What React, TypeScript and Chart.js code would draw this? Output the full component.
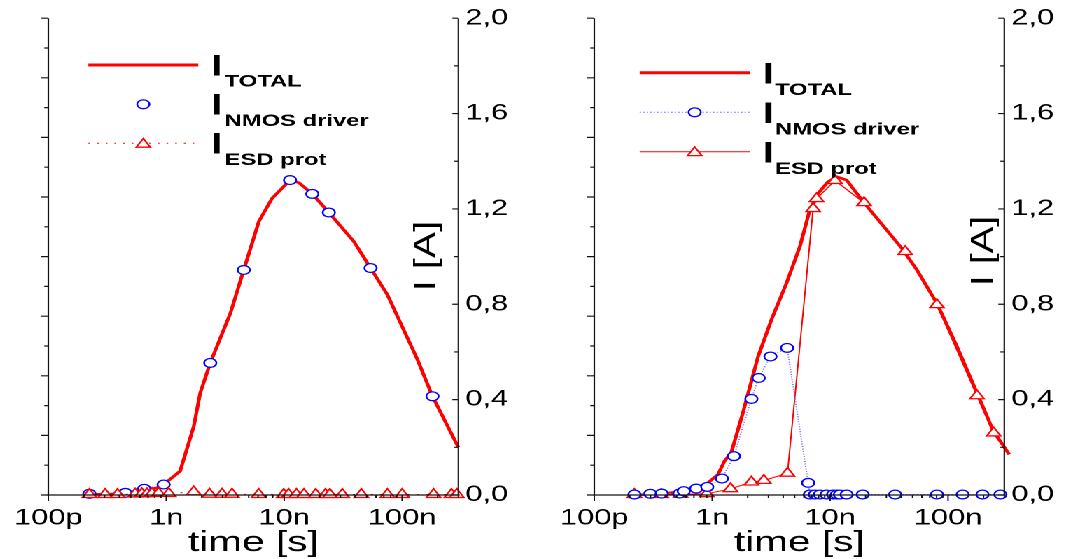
import React, { useEffect, useRef } from 'react';
import { Chart, registerables } from 'chart.js';

Chart.register(...registerables);

// ---------------- data ----------------
const timeMin = 1e-10;
const timeMax = 3e-7;
const xTickValues = [1e-10, 1e-9, 1e-8, 1e-7];
const xTickLabels = ['100p', '1n', '10n', '100n'];
const yTickValues = [0, 0.4, 0.8, 1.2, 1.6, 2.0];
const yTickLabels = ['0,0', '0,4', '0,8', '1,2', '1,6', '2,0'];
const seriesNames = ['TOTAL', 'NMOS driver', 'ESD prot'];
const xTitle = 'time [s]';
const yTitle = 'I [A]';

// left panel
const leftTotalTime = [2.23e-10, 4.34e-10, 6.0e-10, 8.3e-10, 9.5e-10, 1.31e-9, 1.71e-9, 1.94e-9, 2.36e-9, 3.5e-9, 4.54e-9, 6.09e-9, 7.9e-9, 1.12e-8, 1.33e-8, 1.73e-8, 2.39e-8, 3.9e-8, 5.4e-8, 7.5e-8, 1.35e-7, 1.81e-7, 3.0e-7];
const leftTotalCurrent = [0.002, 0.005, 0.016, 0.03, 0.044, 0.1, 0.288, 0.428, 0.554, 0.763, 0.944, 1.147, 1.245, 1.321, 1.31, 1.263, 1.185, 1.063, 0.952, 0.84, 0.568, 0.414, 0.2];

const leftNmosTime = [2.23e-10, 4.5e-10, 6.5e-10, 9.5e-10, 2.36e-9, 4.54e-9, 1.12e-8, 1.73e-8, 2.39e-8, 5.4e-8, 1.81e-7];
const leftNmosCurrent = [0.005, 0.009, 0.026, 0.044, 0.554, 0.944, 1.321, 1.263, 1.185, 0.952, 0.414];

const leftEsdTime = [2.23e-10, 3.03e-10, 3.86e-10, 5.45e-10, 6.2e-10, 6.86e-10, 7.56e-10, 8.6e-10, 1.05e-9, 1.71e-9, 2.33e-9, 2.97e-9, 3.61e-9, 6.08e-9, 9.9e-9, 1.09e-8, 1.27e-8, 1.47e-8, 1.85e-8, 2.24e-8, 2.44e-8, 3.11e-8, 4.51e-8, 7.5e-8, 1.0e-7, 1.85e-7, 2.62e-7, 2.91e-7];
const leftEsdCurrent = [0.002, 0.002, 0.002, 0.004, 0.005, 0.005, 0.006, 0.007, 0.006, 0.013, 0.003, 0.003, 0.003, 0.002, 0.002, 0.002, 0.002, 0.002, 0.002, 0.002, 0.002, 0.002, 0.002, 0.002, 0.002, 0.002, 0.002, 0.002];

// right panel
const rightTotalTime = [2.19e-10, 3.69e-10, 5.8e-10, 7.56e-10, 9.2e-10, 1.12e-9, 1.27e-9, 1.45e-9, 1.82e-9, 2.45e-9, 3.18e-9, 4.27e-9, 5.54e-9, 6.73e-9, 7.93e-9, 9.6e-9, 1.14e-8, 1.38e-8, 1.91e-8, 4.05e-8, 5.43e-8, 8.05e-8, 1.19e-7, 1.76e-7, 2.44e-7, 2.78e-7, 3.3e-7];
const rightTotalCurrent = [0.0, 0.005, 0.016, 0.03, 0.051, 0.086, 0.142, 0.177, 0.344, 0.581, 0.735, 0.889, 1.042, 1.196, 1.266, 1.314, 1.335, 1.321, 1.23, 1.035, 0.945, 0.804, 0.623, 0.428, 0.264, 0.225, 0.17];

const rightNmosTime = [2.19e-10, 2.99e-10, 3.73e-10, 5.28e-10, 5.74e-10, 7.32e-10, 9.08e-10, 1.21e-9, 1.53e-9, 2.15e-9, 2.48e-9, 3.12e-9, 4.32e-9, 6.52e-9, 6.73e-9, 7.43e-9, 8.19e-9, 9.33e-9, 1.06e-8, 1.14e-8, 1.21e-8, 1.38e-8, 1.89e-8, 3.56e-8, 8.05e-8, 1.33e-7, 1.96e-7, 2.78e-7];
const rightNmosCurrent = [0.002, 0.005, 0.006, 0.006, 0.016, 0.027, 0.034, 0.069, 0.163, 0.403, 0.491, 0.581, 0.617, 0.051, 0.002, 0.002, 0.002, 0.002, 0.002, 0.002, 0.002, 0.002, 0.002, 0.002, 0.002, 0.002, 0.002, 0.002];

const rightEsdTime = [2.19e-10, 3.7e-10, 5.4e-10, 9.0e-10, 1.43e-9, 2.15e-9, 2.74e-9, 4.35e-9, 7.18e-9, 7.67e-9, 1.1e-8, 1.94e-8, 4.33e-8, 8.05e-8, 1.76e-7, 2.44e-7];
const rightEsdCurrent = [0.002, 0.002, 0.003, 0.005, 0.026, 0.054, 0.061, 0.091, 1.201, 1.243, 1.319, 1.226, 1.021, 0.798, 0.416, 0.26];

// ---------------- style / layout ----------------
const STRETCH = 1.4; // the whole figure is horizontally stretched
const FONT = '"Liberation Sans", Arial, Helvetica, sans-serif';
const RED = '#ff0000';
const BLUE = '#0000ff';
const AXIS = '#111111';
const CANVAS_W = 370;
const CANVAS_H = 559;
const AREA_LEFT = 34.5;
const AREA_RIGHT = 327.4;
const AREA_TOP = 18;
const X_AXIS_H = 64;

type LegendCfg = {
  x0: number; x1: number; xI: number; xSub: number;
  rows: number[]; iOff: number; subOff: number;
  nmosLine: boolean; esdDash: number[];
};
type PanelCfg = { legend: LegendCfg; titleX: number; titleY: number };

const pts = (t: number[], c: number[]) => t.map((x, i) => ({ x, y: c[i] }));

function drawTriangle(ctx: CanvasRenderingContext2D, x: number, y: number, r: number) {
  ctx.beginPath();
  let rad = 0;
  ctx.moveTo(x + Math.sin(rad) * r, y - Math.cos(rad) * r);
  rad += (2 * Math.PI) / 3;
  ctx.lineTo(x + Math.sin(rad) * r, y - Math.cos(rad) * r);
  rad += (2 * Math.PI) / 3;
  ctx.lineTo(x + Math.sin(rad) * r, y - Math.cos(rad) * r);
  ctx.closePath();
  ctx.fillStyle = '#fff';
  ctx.fill();
  ctx.stroke();
}

function makePlugin(cfg: PanelCfg) {
  return {
    id: 'decor',
    afterDraw(chart: any) {
      const { ctx, chartArea: a, scales } = chart;
      const xs = scales.x;
      const ys = scales.y;
      ctx.save();
      ctx.setLineDash([]);
      ctx.strokeStyle = AXIS;
      // axis lines
      ctx.lineWidth = 1.1;
      ctx.beginPath();
      ctx.moveTo(a.left, a.top);
      ctx.lineTo(a.left, a.bottom);
      ctx.moveTo(a.right, a.top);
      ctx.lineTo(a.right, a.bottom);
      ctx.stroke();
      ctx.lineWidth = 1.3;
      ctx.beginPath();
      ctx.moveTo(a.left - 1, a.bottom);
      ctx.lineTo(a.right + 1, a.bottom);
      ctx.stroke();
      // x ticks (log)
      ctx.lineWidth = 1.0;
      ctx.beginPath();
      for (let e = -10; e <= -7; e++) {
        for (let m = 1; m <= 9; m++) {
          const v = m * Math.pow(10, e);
          if (v > timeMax * 1.0001) break;
          const px = xs.getPixelForValue(v);
          const len = m === 1 ? 6 : 3;
          ctx.moveTo(px, a.bottom);
          ctx.lineTo(px, a.bottom + len);
        }
      }
      ctx.stroke();
      // left axis ticks (outward)
      ctx.lineWidth = 1.2;
      ctx.beginPath();
      for (let i = 0; i <= 16; i++) {
        const py = ys.getPixelForValue(i * 0.125);
        const len = (i % 2 === 0 ? 7 : 4) / STRETCH;
        ctx.moveTo(a.left - len, py);
        ctx.lineTo(a.left, py);
      }
      // right axis ticks (inward)
      for (let i = 0; i <= 10; i++) {
        const py = ys.getPixelForValue(i * 0.2);
        const len = (i % 2 === 0 ? 6 : 4) / STRETCH;
        ctx.moveTo(a.right - len, py);
        ctx.lineTo(a.right, py);
      }
      ctx.stroke();

      // rotated y title
      ctx.save();
      ctx.translate(cfg.titleX, cfg.titleY);
      ctx.rotate(-Math.PI / 2);
      ctx.scale(1.8, 1);
      ctx.font = `normal 22px ${FONT}`;
      ctx.fillStyle = '#000';
      ctx.textAlign = 'center';
      ctx.textBaseline = 'middle';
      ctx.fillText(yTitle, 0, 0);
      ctx.restore();

      // legend
      const L = cfg.legend;
      const mid = (L.x0 + L.x1) / 2;
      ctx.strokeStyle = RED;
      ctx.lineWidth = 3;
      ctx.beginPath();
      ctx.moveTo(L.x0, L.rows[0]);
      ctx.lineTo(L.x1, L.rows[0]);
      ctx.stroke();
      if (L.nmosLine) {
        ctx.strokeStyle = '#7070ff';
        ctx.lineWidth = 1;
        ctx.setLineDash([1, 1.5]);
        ctx.beginPath();
        ctx.moveTo(L.x0, L.rows[1]);
        ctx.lineTo(L.x1, L.rows[1]);
        ctx.stroke();
        ctx.setLineDash([]);
      }
      ctx.strokeStyle = BLUE;
      ctx.lineWidth = 1.3;
      ctx.beginPath();
      ctx.arc(mid, L.rows[1], 4.4, 0, Math.PI * 2);
      ctx.fillStyle = '#fff';
      ctx.fill();
      ctx.stroke();
      ctx.strokeStyle = RED;
      ctx.lineWidth = 1;
      ctx.setLineDash(L.esdDash);
      ctx.beginPath();
      ctx.moveTo(L.x0, L.rows[2]);
      ctx.lineTo(L.x1, L.rows[2]);
      ctx.stroke();
      ctx.setLineDash([]);
      ctx.lineWidth = 1.3;
      drawTriangle(ctx, mid, L.rows[2] + 1, 5.8);

      ctx.fillStyle = '#000';
      ctx.textAlign = 'left';
      ctx.textBaseline = 'alphabetic';
      L.rows.forEach((ry, i) => {
        ctx.font = `bold 30px ${FONT}`;
        ctx.fillText('I', L.xI, ry + L.iOff);
        ctx.font = `bold 17px ${FONT}`;
        ctx.fillText(seriesNames[i], L.xSub, ry + L.subOff);
      });
      ctx.restore();
    },
  };
}

function baseOptions() {
  return {
    animation: false,
    responsive: false,
    devicePixelRatio: 2,
    layout: { padding: { top: AREA_TOP, left: 0, right: 0, bottom: 0 } },
    plugins: { legend: { display: false }, tooltip: { enabled: false } },
    scales: {
      x: {
        type: 'logarithmic',
        position: 'bottom',
        min: timeMin,
        max: timeMax,
        afterFit: (s: any) => { s.height = X_AXIS_H; },
        afterBuildTicks: (s: any) => { s.ticks = xTickValues.map((v) => ({ value: v })); },
        grid: { display: false, drawTicks: false },
        border: { display: false },
        ticks: {
          autoSkip: false,
          maxRotation: 0,
          padding: 10,
          color: '#000',
          font: { family: FONT, size: 22, weight: 'normal' },
          callback: (v: number) => {
            const i = xTickValues.findIndex((t) => Math.abs(t - v) / t < 1e-6);
            return i >= 0 ? xTickLabels[i] : '';
          },
        },
        title: { display: true, text: xTitle, color: '#000', font: { family: FONT, size: 29, weight: 'normal', lineHeight: 1.1 }, padding: 0 },
      },
      y: {
        position: 'right',
        min: 0,
        max: 2,
        afterFit: (s: any) => { s.width = CANVAS_W - AREA_RIGHT; },
        afterBuildTicks: (s: any) => { s.ticks = yTickValues.map((v) => ({ value: v })); },
        grid: { display: false, drawTicks: false },
        border: { display: false },
        ticks: {
          autoSkip: false,
          padding: 5,
          color: '#000',
          font: { family: FONT, size: 22, weight: 'normal' },
          callback: (v: number) => {
            const i = yTickValues.findIndex((t) => Math.abs(t - v) < 1e-6);
            return i >= 0 ? yTickLabels[i] : '';
          },
        },
      },
      yL: {
        position: 'left',
        min: 0,
        max: 2,
        afterFit: (s: any) => { s.width = AREA_LEFT; },
        grid: { display: false, drawTicks: false },
        border: { display: false },
        ticks: { display: false },
      },
    },
  };
}

const markerCommon = { clip: false as const, yAxisID: 'y', pointBackgroundColor: '#fff', pointBorderWidth: 1.3, pointHoverRadius: 0 };

function leftDatasets() {
  return [
    { ...markerCommon, label: 'ESD prot', data: pts(leftEsdTime, leftEsdCurrent), order: 0, showLine: true, borderColor: RED, borderWidth: 1, borderDash: [1.5, 5], pointStyle: 'triangle', pointRadius: 5.8, pointBorderColor: RED },
    { ...markerCommon, label: 'NMOS driver', data: pts(leftNmosTime, leftNmosCurrent), order: 1, showLine: false, pointStyle: 'circle', pointRadius: 4.4, pointBorderColor: BLUE, borderColor: BLUE },
    { clip: false, yAxisID: 'y', label: 'TOTAL', data: pts(leftTotalTime, leftTotalCurrent), order: 2, borderColor: RED, borderWidth: 2.6, pointRadius: 0, tension: 0 },
  ];
}

function rightDatasets() {
  return [
    { ...markerCommon, label: 'NMOS driver', data: pts(rightNmosTime, rightNmosCurrent), order: 0, showLine: true, borderColor: '#7070ff', borderWidth: 1, borderDash: [1, 1.5], pointStyle: 'circle', pointRadius: 4.4, pointBorderColor: BLUE },
    { ...markerCommon, label: 'ESD prot', data: pts(rightEsdTime, rightEsdCurrent), order: 1, showLine: true, borderColor: RED, borderWidth: 1, pointStyle: 'triangle', pointRadius: 5.8, pointBorderColor: RED },
    { clip: false, yAxisID: 'y', label: 'TOTAL', data: pts(rightTotalTime, rightTotalCurrent), order: 2, borderColor: RED, borderWidth: 2.6, pointRadius: 0, tension: 0 },
  ];
}

const leftCfg: PanelCfg = {
  legend: { x0: 63.1, x1: 141.6, xI: 150.5, xSub: 160.4, rows: [65, 104.3, 143.3], iOff: 10.3, subOff: 21.7, nmosLine: false, esdDash: [1.2, 5] },
  titleX: 304.7,
  titleY: 256,
};
const rightCfg: PanelCfg = {
  legend: { x0: 66.9, x1: 145.6, xI: 154.8, xSub: 163.6, rows: [72.7, 112.3, 151.7], iOff: 10.6, subOff: 22.3, nmosLine: true, esdDash: [] },
  titleX: 313,
  titleY: 251,
};

function Panel({ datasets, cfg }: { datasets: any[]; cfg: PanelCfg }) {
  const ref = useRef<HTMLCanvasElement | null>(null);
  useEffect(() => {
    if (!ref.current) return;
    const chart = new Chart(ref.current, {
      type: 'line',
      data: { datasets },
      options: baseOptions() as any,
      plugins: [makePlugin(cfg)],
    } as any);
    return () => chart.destroy();
  }, []);
  return <canvas ref={ref} width={CANVAS_W} height={CANVAS_H} style={{ width: CANVAS_W, height: CANVAS_H, display: 'block' }} />;
}

export default function App() {
  return (
    <div style={{ position: 'fixed', left: 0, top: 0, width: 1070, height: 559, overflow: 'hidden', background: '#fff' }}>
      <div style={{ position: 'absolute', left: 0, top: 0, width: 765, height: 559, transform: `scaleX(${STRETCH})`, transformOrigin: '0 0' }}>
        <div style={{ position: 'absolute', left: 0, top: 0 }}>
          <Panel datasets={leftDatasets()} cfg={leftCfg} />
        </div>
        <div style={{ position: 'absolute', left: 390, top: 0 }}>
          <Panel datasets={rightDatasets()} cfg={rightCfg} />
        </div>
      </div>
    </div>
  );
}
